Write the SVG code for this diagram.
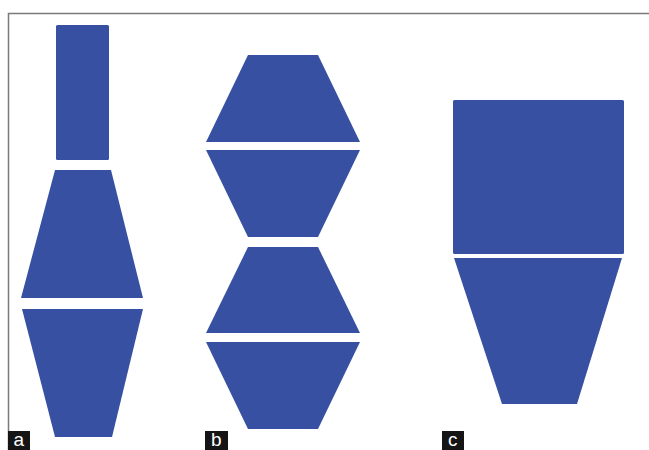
<svg xmlns="http://www.w3.org/2000/svg" width="649" height="450" viewBox="0 0 649 450">
<style>
.s{fill:#3750a1}
.lb{fill:#151515}
.lt{fill:#ffffff;font-family:"Liberation Sans",Arial,sans-serif;font-size:19px}
</style>
<rect width="649" height="450" fill="#ffffff"/>
<path d="M8.5 450V13.5H649" fill="none" stroke="#7a7a7a" stroke-width="1.5"/>
<g id="a">
<rect class="s" x="56" y="25" width="53" height="135" rx="1.5"/>
<polygon class="s" points="55,170 111,170 143,298 21,298"/>
<polygon class="s" points="22,309 143,309 112,437 55,437"/>
</g>
<g id="b">
<polygon class="s" points="248,55 318,55 360,142 206,142"/>
<polygon class="s" points="206,150 360,150 318,237 248,237"/>
<polygon class="s" points="248,247 318,247 360,333 206,333"/>
<polygon class="s" points="206,342 360,342 318,429 248,429"/>
</g>
<g id="c">
<rect class="s" x="453" y="100" width="171" height="154" rx="1.5"/>
<polygon class="s" points="454,258 622,258 577,404 502,404"/>
</g>
<g id="labels">
<rect class="lb" x="8" y="431" width="22" height="19"/>
<text class="lt" x="13.5" y="446">a</text>
<rect class="lb" x="205" y="431" width="23" height="19"/>
<text class="lt" x="211" y="446">b</text>
<rect class="lb" x="442" y="431" width="22" height="19"/>
<text class="lt" x="448" y="446">c</text>
</g>
</svg>
